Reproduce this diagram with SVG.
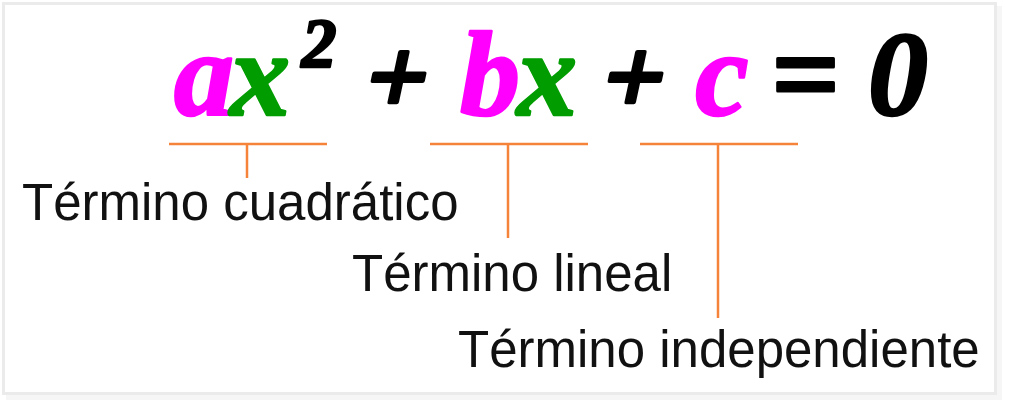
<svg xmlns="http://www.w3.org/2000/svg" width="1009" height="406" viewBox="0 0 1009 406">
<style>
.eq{font-family:"Liberation Serif","Times New Roman",serif;font-weight:bold;font-style:italic;font-size:120px;text-anchor:middle;stroke-width:2.5;stroke-linejoin:round}
.m{fill:#ff00ff;stroke:#ff00ff}.g{fill:#009c00;stroke:#009c00}.k{fill:#000;stroke:#000}
.lbl{font-family:"Liberation Sans",Arial,sans-serif;font-size:51px;fill:#111}
.br{stroke:#f5833a;stroke-width:2.5;fill:none}
</style>
<rect x="0" y="0" width="1009" height="406" fill="#fff"/>
<rect x="997" y="6" width="5" height="391" fill="#f6f6f6"/>
<rect x="6" y="395" width="996" height="5" fill="#f6f6f6"/>
<rect x="3.5" y="3.5" width="992" height="390" fill="#fff" stroke="#ebebeb" stroke-width="3"/>
<g id="equation">
<text class="eq m" x="204" y="115">a</text>
<text class="eq g" x="260" y="115">x</text>
<text class="eq k" x="319" y="67" style="font-size:70px;stroke-width:2.5">2</text>
<text class="eq k" x="0" y="0" style="font-size:108px;stroke-width:4" transform="translate(390 113) skewX(-12)">+</text>
<text class="eq m" x="490" y="115">b</text>
<text class="eq g" x="547" y="115">x</text>
<text class="eq k" x="0" y="0" style="font-size:108px;stroke-width:4" transform="translate(627 113) skewX(-12)">+</text>
<text class="eq m" x="722" y="115">c</text>
<text class="eq k" x="805" y="115" style="stroke-width:3">=</text>
<text class="eq k" x="898" y="115">0</text>
</g>
<g id="connectors">
<path class="br" d="M169 144H327M247 144V178"/>
<path class="br" d="M430 144H588M508 144V238"/>
<path class="br" d="M640 144H798M718 144V318"/>
</g>
<g id="label-cuadratico"><text class="lbl" x="22" y="220">Término cuadrático</text></g>
<g id="label-lineal"><text class="lbl" x="352" y="291">Término lineal</text></g>
<g id="label-independiente"><text class="lbl" x="458" y="367">Término independiente</text></g>
</svg>
